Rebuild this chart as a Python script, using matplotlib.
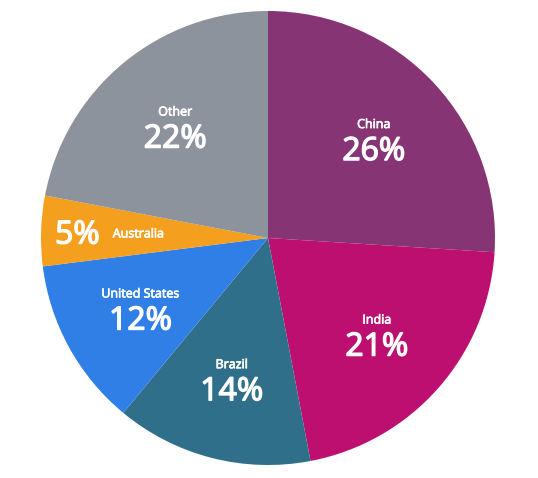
import matplotlib.pyplot as plt
import matplotlib.patheffects as pe
import numpy as np

# slice data, clockwise from 12 o'clock
labels = ['China', 'India', 'Brazil', 'United States', 'Australia', 'Other']
shares = [26, 21, 14, 12, 5, 22]
colors = ['#873474', '#bd0f6f', '#2f6f89', '#2f7fe6', '#f59f1f', '#8c939c']

plt.rcParams['font.family'] = ['Open Sans', 'DejaVu Sans']

fig = plt.figure(figsize=(5.38, 4.78), dpi=100)
ax = fig.add_axes([0, 0, 1, 1])

cx, cy, R = 268, 240, 227
wedges, _ = ax.pie(shares, colors=colors, startangle=90, counterclock=False,
                   center=(cx, cy), radius=R, frame=True,
                   wedgeprops=dict(linewidth=0))
ax.set_xlim(0, 538)
ax.set_ylim(0, 478)
ax.axis('off')

# regular weight + thin stroke ~ semibold look
big = dict(color='white', fontsize=23, ha='center', va='center',
           path_effects=[pe.withStroke(linewidth=1.0, foreground='white')])
small = dict(color='white', fontsize=9, ha='center', va='center',
             path_effects=[pe.withStroke(linewidth=0.5, foreground='white')])

for w, name, val in zip(wedges, labels, shares):
    mid = np.deg2rad((w.theta1 + w.theta2) / 2)
    if name == 'Australia':
        # small slice: label laid out side by side
        x1 = cx + 0.84 * R * np.cos(mid)
        x2 = cx + 0.57 * R * np.cos(mid)
        y = cy + 0.84 * R * np.sin(mid) - 3
        ax.text(x1, y, f'{val}%', **big)
        ax.text(x2, y + 1, name, **small)
        continue
    x = cx + 0.64 * R * np.cos(mid)
    y = cy + 0.64 * R * np.sin(mid)
    ax.text(x, y + 14, name, **small)
    ax.text(x, y - 13, f'{val}%', **big)

fig.savefig('out.png', dpi=100, facecolor='white')
